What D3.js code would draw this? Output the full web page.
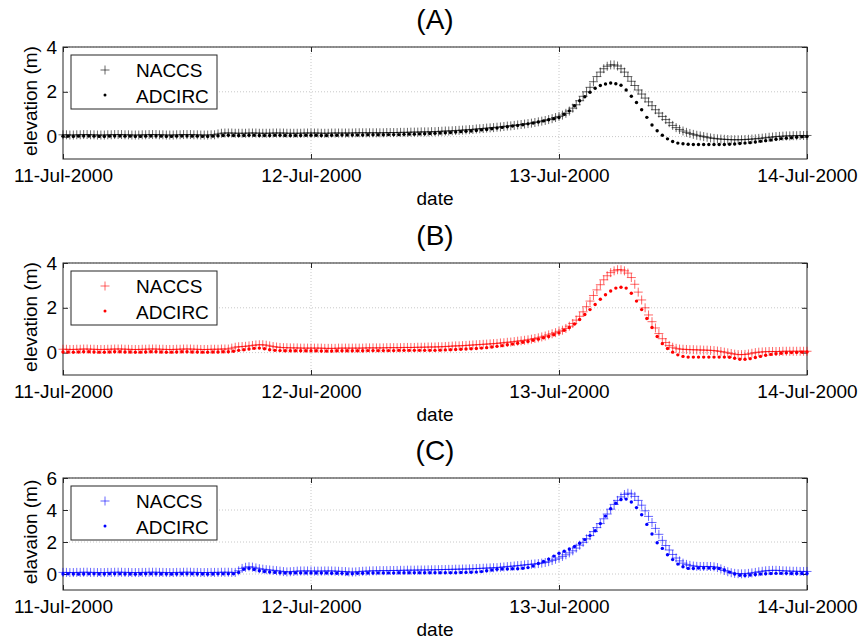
<!DOCTYPE html>
<html>
<head>
<meta charset="utf-8">
<script src="https://cdn.jsdelivr.net/npm/d3@7"></script>
<style>
  body { margin: 0; background: #fff; }
  text { font-family: "Liberation Sans", Arial, Helvetica, sans-serif; fill: #000; }
</style>
</head>
<body>
<div id="chart"></div>
<script>
// time axis: 11-Jul-2000 00:00 to 14-Jul-2000 00:00
var startDate = new Date(2000, 6, 11), endDate = new Date(2000, 6, 14);
var dayTicks = [new Date(2000, 6, 11), new Date(2000, 6, 12), new Date(2000, 6, 13), new Date(2000, 6, 14)];
var dayLabels = ["11-Jul-2000", "12-Jul-2000", "13-Jul-2000", "14-Jul-2000"];
var naccsStepMin = 20;   // NACCS sampled every 20 min
var adcircStepMin = 30;  // ADCIRC sampled every 30 min
var seriesNames = ["NACCS", "ADCIRC"];
var panelTitles = ["(A)", "(B)", "(C)"];
var yLabels = ["elevation (m)", "elevation (m)", "elavaion (m)"];

// (A) elevation (m), one row per hour
var naccsA = [
  0.08,0.08,0.07, 0.07,0.08,0.08, 0.09,0.09,0.08, 0.08,0.07,0.07, 0.07,0.08,0.08, 0.09,0.09,0.09,
  0.08,0.08,0.07, 0.07,0.07,0.08, 0.08,0.09,0.09, 0.09,0.08,0.08, 0.07,0.07,0.07, 0.08,0.08,0.09,
  0.09,0.09,0.08, 0.08,0.07,0.07, 0.07,0.08,0.08, 0.12,0.15,0.16, 0.16,0.16,0.15, 0.15,0.15,0.15,
  0.16,0.16,0.16, 0.15,0.15,0.15, 0.15,0.16,0.16, 0.16,0.16,0.15, 0.15,0.15,0.15, 0.15,0.16,0.16,
  0.16,0.16,0.16, 0.15,0.15,0.15, 0.16,0.16,0.16, 0.16,0.16,0.16, 0.16,0.17,0.17, 0.17,0.17,0.17,
  0.17,0.17,0.17, 0.17,0.18,0.18, 0.18,0.18,0.19, 0.19,0.19,0.20, 0.20,0.20,0.21, 0.21,0.21,0.22,
  0.22,0.23,0.24, 0.25,0.25,0.26, 0.27,0.28,0.29, 0.30,0.31,0.32, 0.34,0.35,0.36, 0.38,0.39,0.40,
  0.42,0.43,0.45, 0.47,0.48,0.50, 0.52,0.54,0.56, 0.58,0.60,0.63, 0.66,0.69,0.72, 0.76,0.80,0.85,
  0.90,0.96,1.04, 1.14,1.27,1.42, 1.60,1.80,2.00, 2.20,2.45,2.68, 2.88,3.03,3.14, 3.20,3.20,3.15,
  3.03,2.88,2.68, 2.47,2.28,2.08, 1.90,1.72,1.55, 1.38,1.20,1.05, 0.90,0.76,0.62, 0.50,0.40,0.32,
  0.25,0.19,0.14, 0.10,0.06,0.03, 0.00,-0.03,-0.06, -0.08,-0.10,-0.11, -0.12,-0.13,-0.14, -0.14,-0.14,-0.14,
  -0.13,-0.12,-0.11, -0.10,-0.08,-0.07, -0.05,-0.03,-0.02, 0.00,0.01,0.02, 0.03,0.03,0.04, 0.04,0.05,0.05,
  0.05
];
var adcircA = [
  0.02,0.02, 0.01,0.02, 0.03,0.03, 0.02,0.01, 0.01,0.02, 0.03,0.03, 0.02,0.02, 0.01,0.01,
  0.02,0.03, 0.03,0.02, 0.01,0.01, 0.02,0.03, 0.03,0.02, 0.02,0.01, 0.01,0.02, 0.04,0.05,
  0.06,0.05, 0.05,0.05, 0.06,0.06, 0.05,0.05, 0.05,0.06, 0.06,0.05, 0.05,0.05, 0.05,0.06,
  0.06,0.06, 0.05,0.05, 0.06,0.06, 0.07,0.07, 0.07,0.07, 0.07,0.08, 0.08,0.08, 0.08,0.09,
  0.09,0.09, 0.10,0.11, 0.11,0.12, 0.13,0.14, 0.15,0.16, 0.17,0.18, 0.20,0.22, 0.24,0.25,
  0.27,0.30, 0.32,0.35, 0.38,0.41, 0.44,0.47, 0.50,0.53, 0.57,0.61, 0.65,0.70, 0.75,0.80,
  0.85,1.00, 1.15,1.38, 1.60,1.78, 1.98,2.16, 2.28,2.35, 2.39,2.36, 2.29,2.08, 1.80,1.52,
  1.20,0.86, 0.52,0.26, 0.06,-0.10, -0.22,-0.29, -0.32,-0.34, -0.35,-0.35, -0.35,-0.35, -0.35,-0.35,
  -0.35,-0.34, -0.33,-0.31, -0.29,-0.27, -0.24,-0.21, -0.18,-0.15, -0.12,-0.09, -0.07,-0.05, -0.03,-0.01,
  0.00
];

// (B)
var naccsB = [
  0.15,0.15,0.14, 0.14,0.15,0.15, 0.16,0.16,0.15, 0.15,0.14,0.14, 0.14,0.15,0.15, 0.16,0.16,0.16,
  0.15,0.15,0.14, 0.14,0.14,0.15, 0.15,0.16,0.16, 0.16,0.15,0.15, 0.14,0.14,0.14, 0.15,0.15,0.16,
  0.16,0.16,0.15, 0.15,0.14,0.14, 0.14,0.15,0.15, 0.15,0.16,0.16, 0.16,0.20,0.24, 0.26,0.27,0.28,
  0.30,0.32,0.34, 0.35,0.35,0.33, 0.30,0.27,0.25, 0.23,0.22,0.22, 0.21,0.21,0.21, 0.20,0.20,0.20,
  0.20,0.20,0.20, 0.20,0.19,0.19, 0.19,0.19,0.20, 0.20,0.20,0.20, 0.20,0.20,0.20, 0.20,0.21,0.21,
  0.21,0.21,0.21, 0.21,0.22,0.22, 0.22,0.22,0.22, 0.23,0.23,0.23, 0.23,0.24,0.24, 0.24,0.25,0.25,
  0.25,0.26,0.26, 0.27,0.28,0.29, 0.30,0.30,0.31, 0.32,0.33,0.34, 0.35,0.36,0.37, 0.38,0.39,0.40,
  0.41,0.43,0.44, 0.46,0.47,0.49, 0.51,0.53,0.55, 0.57,0.60,0.63, 0.66,0.70,0.74, 0.79,0.84,0.89,
  0.95,1.00,1.08, 1.18,1.30,1.45, 1.62,1.82,2.05, 2.30,2.55,2.80, 3.03,3.25,3.43, 3.57,3.65,3.70,
  3.70,3.65,3.55, 3.35,3.05,2.70, 2.35,2.00,1.68, 1.38,1.10,0.85, 0.62,0.45,0.32, 0.24,0.19,0.16,
  0.15,0.14,0.13, 0.13,0.12,0.12, 0.11,0.11,0.10, 0.09,0.07,0.05, 0.02,-0.01,-0.04, -0.07,-0.09,-0.09,
  -0.08,-0.06,-0.03, 0.00,0.02,0.03, 0.04,0.05,0.05, 0.05,0.05,0.06, 0.06,0.06,0.06, 0.06,0.06,0.06,
  0.06
];
var adcircB = [
  0.03,0.03, 0.02,0.03, 0.04,0.04, 0.03,0.02, 0.02,0.03, 0.04,0.04, 0.03,0.03, 0.02,0.02,
  0.03,0.04, 0.04,0.03, 0.02,0.02, 0.03,0.04, 0.04,0.03, 0.03,0.02, 0.02,0.03, 0.03,0.04,
  0.04,0.06, 0.10,0.13, 0.16,0.19, 0.20,0.17, 0.13,0.10, 0.09,0.08, 0.08,0.08, 0.08,0.08,
  0.08,0.08, 0.07,0.07, 0.07,0.08, 0.08,0.08, 0.08,0.08, 0.08,0.09, 0.09,0.09, 0.09,0.09,
  0.09,0.10, 0.10,0.10, 0.10,0.10, 0.10,0.10, 0.10,0.11, 0.12,0.13, 0.14,0.15, 0.16,0.17,
  0.18,0.20, 0.22,0.25, 0.28,0.31, 0.35,0.38, 0.42,0.46, 0.50,0.55, 0.60,0.66, 0.72,0.80,
  0.88,1.00, 1.12,1.28, 1.48,1.70, 1.92,2.15, 2.38,2.58, 2.75,2.88, 2.92,2.88, 2.65,2.30,
  1.92,1.52, 1.12,0.72, 0.40,0.18, 0.02,-0.10, -0.17,-0.20, -0.20,-0.20, -0.20,-0.20, -0.20,-0.20,
  -0.20,-0.21, -0.25,-0.30, -0.30,-0.27, -0.22,-0.17, -0.12,-0.08, -0.05,-0.03, -0.01,0.00, 0.01,0.02,
  0.03
];

// (C)
var naccsC = [
  0.10,0.10,0.09, 0.09,0.10,0.10, 0.11,0.11,0.10, 0.10,0.09,0.09, 0.09,0.10,0.10, 0.11,0.11,0.11,
  0.10,0.10,0.09, 0.09,0.09,0.10, 0.10,0.11,0.11, 0.11,0.10,0.10, 0.09,0.09,0.09, 0.10,0.10,0.11,
  0.11,0.11,0.10, 0.10,0.09,0.09, 0.09,0.10,0.10, 0.10,0.11,0.11, 0.11,0.10,0.10, 0.20,0.35,0.42,
  0.45,0.43,0.38, 0.33,0.30,0.27, 0.25,0.23,0.21, 0.18,0.15,0.13, 0.14,0.16,0.18, 0.19,0.19,0.19,
  0.19,0.18,0.18, 0.18,0.19,0.19, 0.19,0.18,0.17, 0.16,0.15,0.13, 0.12,0.13,0.15, 0.17,0.18,0.19,
  0.20,0.20,0.21, 0.21,0.21,0.22, 0.22,0.22,0.23, 0.23,0.24,0.24, 0.24,0.25,0.25, 0.25,0.26,0.26,
  0.27,0.27,0.28, 0.28,0.29,0.29, 0.30,0.30,0.31, 0.31,0.32,0.33, 0.34,0.35,0.36, 0.37,0.38,0.39,
  0.40,0.42,0.44, 0.46,0.48,0.50, 0.52,0.54,0.57, 0.59,0.61,0.63, 0.65,0.68,0.72, 0.77,0.84,0.92,
  1.00,1.10,1.20, 1.32,1.45,1.62, 1.80,1.98,2.20, 2.40,2.65,2.90, 3.15,3.45,3.75, 4.05,4.35,4.60,
  4.82,4.97,5.05, 5.00,4.85,4.60, 4.30,3.95,3.60, 3.22,2.85,2.48, 2.10,1.78,1.50, 1.22,1.00,0.82,
  0.68,0.60,0.54, 0.50,0.48,0.47, 0.47,0.47,0.47, 0.45,0.40,0.32, 0.22,0.14,0.08, 0.04,0.02,0.01,
  0.02,0.04,0.07, 0.10,0.14,0.17, 0.20,0.22,0.23, 0.23,0.22,0.20, 0.19,0.18,0.17, 0.17,0.16,0.16,
  0.16
];
var adcircC = [
  0.00,0.01, 0.00,-0.01, 0.00,0.01, 0.01,0.00, 0.00,0.01, 0.01,0.01, 0.00,0.00, -0.01,0.00,
  0.01,0.01, 0.01,0.00, 0.00,-0.01, 0.00,0.01, 0.01,0.01, 0.00,0.00, -0.01,0.00, 0.01,0.01,
  0.01,0.01, 0.10,0.30, 0.35,0.28, 0.20,0.16, 0.12,0.10, 0.08,0.06, 0.06,0.07, 0.07,0.07,
  0.07,0.06, 0.06,0.06, 0.05,0.05, 0.04,0.02, 0.02,0.04, 0.05,0.06, 0.06,0.07, 0.07,0.07,
  0.07,0.08, 0.08,0.08, 0.08,0.08, 0.08,0.08, 0.08,0.08, 0.08,0.08, 0.08,0.09, 0.10,0.11,
  0.12,0.15, 0.20,0.25, 0.30,0.31, 0.32,0.33, 0.33,0.36, 0.40,0.50, 0.66,0.78, 0.93,1.12,
  1.30,1.42, 1.56,1.72, 1.92,2.15, 2.40,2.70, 3.15,3.62, 4.08,4.42, 4.66,4.68, 4.50,4.15,
  3.70,3.10, 2.50,1.95, 1.60,1.20, 0.90,0.62, 0.45,0.35, 0.35,0.37, 0.37,0.37, 0.36,0.34,
  0.25,0.12, 0.00,-0.08, -0.09,-0.06, -0.03,0.00, 0.02,0.03, 0.04,0.04, 0.04,0.03, 0.03,0.03,
  0.03
];

var yDomains = [[-1, 4], [-1, 4], [-1, 6]];
var yTickValues = [[0, 2, 4], [0, 2, 4], [0, 2, 4, 6]];
var colors = ["#000000", "#ff0000", "#0000ff"];

var width = 861, height = 643;
var margin = { left: 63, right: 54 };
var plotH = 112;
var panelTops = [47, 263, 478];

var svg = d3.select("#chart").append("svg")
    .attr("width", width)
    .attr("height", height);

var x = d3.scaleTime()
    .domain([startDate, endDate])
    .range([margin.left, width - margin.right]);

function toSeries(values, stepMin) {
  return values.map(function(v, i) {
    return { t: new Date(startDate.getTime() + i * stepMin * 60000), v: v };
  });
}

var panels = [
  { naccs: naccsA, adcirc: adcircA },
  { naccs: naccsB, adcirc: adcircB },
  { naccs: naccsC, adcirc: adcircC }
];

var plusPath = "M-4.5,0H4.5M0,-4.5V4.5";

panels.forEach(function(p, k) {
  var top = panelTops[k], bottom = top + plotH;
  var color = colors[k];
  var y = d3.scaleLinear().domain(yDomains[k]).range([bottom, top]);
  var g = svg.append("g");

  // grid (dotted)
  g.selectAll(".vgrid").data(dayTicks.slice(1, 3)).enter().append("line")
      .attr("x1", function(d) { return x(d); }).attr("x2", function(d) { return x(d); })
      .attr("y1", top).attr("y2", bottom)
      .attr("stroke", "#c8c8c8").attr("stroke-dasharray", "1,2");
  g.selectAll(".hgrid").data(yTickValues[k]).enter().append("line")
      .attr("x1", x.range()[0]).attr("x2", x.range()[1])
      .attr("y1", function(d) { return y(d); }).attr("y2", function(d) { return y(d); })
      .attr("stroke", "#c8c8c8").attr("stroke-dasharray", "1,2");

  // axes with inward ticks
  var xb = g.append("g").attr("transform", "translate(0," + bottom + ")")
      .call(d3.axisBottom(x).tickValues(dayTicks).tickSize(-5).tickPadding(10)
        .tickFormat(function(d, i) { return dayLabels[i]; }));
  var xt = g.append("g").attr("transform", "translate(0," + top + ")")
      .call(d3.axisTop(x).tickValues(dayTicks).tickSize(-5).tickFormat(""));
  var yl = g.append("g").attr("transform", "translate(" + x.range()[0] + ",0)")
      .call(d3.axisLeft(y).tickValues(yTickValues[k]).tickSize(-5).tickPadding(6)
        .tickFormat(d3.format("d")));
  var yr = g.append("g").attr("transform", "translate(" + x.range()[1] + ",0)")
      .call(d3.axisRight(y).tickValues(yTickValues[k]).tickSize(-5).tickFormat(""));
  [xb, xt, yl, yr].forEach(function(a) {
    a.select(".domain").remove();
    a.selectAll("line").attr("stroke", "#262626");
    a.selectAll("text").attr("font-size", 19)
      .style("font-family", "'Liberation Sans', Arial, sans-serif").attr("fill", "#000");
  });

  // frame
  g.append("rect")
      .attr("x", x.range()[0]).attr("y", top)
      .attr("width", x.range()[1] - x.range()[0]).attr("height", plotH)
      .attr("fill", "none").attr("stroke", "#262626").attr("stroke-width", 1);

  // NACCS '+' markers
  g.append("g").selectAll("path").data(toSeries(p.naccs, naccsStepMin)).enter().append("path")
      .attr("d", plusPath)
      .attr("transform", function(d) { return "translate(" + x(d.t) + "," + y(d.v) + ")"; })
      .attr("fill", "none").attr("stroke", color).attr("stroke-width", 1)
      .attr("stroke-opacity", 0.6);

  // ADCIRC '.' markers
  g.append("g").selectAll("circle").data(toSeries(p.adcirc, adcircStepMin)).enter().append("circle")
      .attr("cx", function(d) { return x(d.t); })
      .attr("cy", function(d) { return y(d.v); })
      .attr("r", 1.7)
      .attr("fill", color);

  // legend
  var lg = g.append("g").attr("transform", "translate(" + (x.range()[0] + 8) + "," + (top + 8) + ")");
  lg.append("rect").attr("width", 146).attr("height", 54)
      .attr("fill", "#fff").attr("stroke", "#262626").attr("stroke-width", 1);
  lg.append("path").attr("d", plusPath).attr("transform", "translate(34,15)")
      .attr("fill", "none").attr("stroke", color).attr("stroke-opacity", 0.6);
  lg.append("circle").attr("cx", 34).attr("cy", 40).attr("r", 1.5).attr("fill", color);
  lg.selectAll("text").data(seriesNames).enter().append("text")
      .attr("x", 65).attr("y", function(d, i) { return 22 + i * 25.5; })
      .attr("font-size", 19).text(function(d) { return d; });

  // titles and axis labels
  g.append("text").attr("x", (x.range()[0] + x.range()[1]) / 2).attr("y", top - 18)
      .attr("text-anchor", "middle").attr("font-size", 28).text(panelTitles[k]);
  g.append("text").attr("x", (x.range()[0] + x.range()[1]) / 2).attr("y", bottom + 46)
      .attr("text-anchor", "middle").attr("font-size", 19).text("date");
  g.append("text")
      .attr("transform", "translate(37," + (top + plotH / 2 - 2) + ") rotate(-90)")
      .attr("text-anchor", "middle").attr("font-size", 19).text(yLabels[k]);
});
</script>
</body>
</html>
